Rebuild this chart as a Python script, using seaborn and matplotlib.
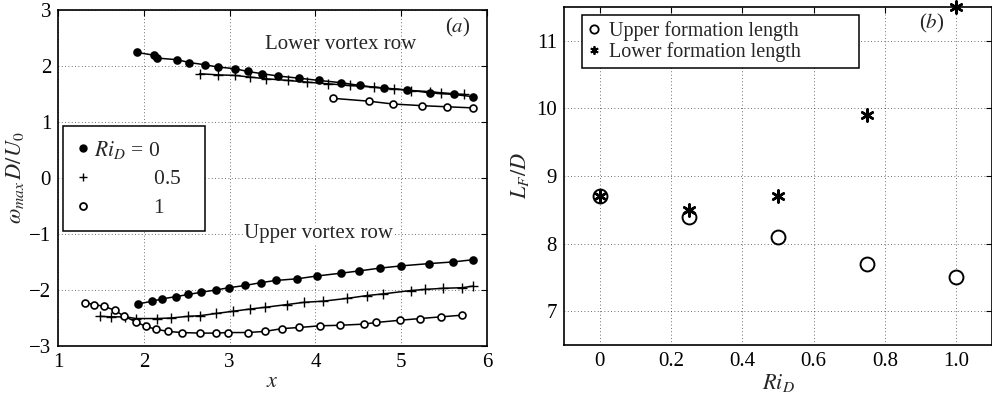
import numpy as np
import pandas as pd
import seaborn as sns
import matplotlib
matplotlib.use("Agg")
import matplotlib.pyplot as plt
from matplotlib.lines import Line2D

# ---------------- data: panel (a) ----------------
low0_x = [1.92, 2.12, 2.15, 2.39, 2.53, 2.71, 2.86, 3.06, 3.21, 3.38, 3.56, 3.81, 4.04, 4.30, 4.52, 4.80, 5.07, 5.33, 5.61, 5.84]
low0_y = [2.24, 2.19, 2.14, 2.11, 2.06, 2.02, 1.98, 1.95, 1.90, 1.86, 1.82, 1.78, 1.74, 1.70, 1.65, 1.60, 1.57, 1.52, 1.49, 1.45]
low05_x = [2.65, 2.86, 3.06, 3.24, 3.42, 3.68, 3.90, 4.15, 4.40, 4.68, 4.91, 5.11, 5.34, 5.46, 5.73]
low05_y = [1.86, 1.84, 1.83, 1.80, 1.77, 1.74, 1.71, 1.68, 1.65, 1.62, 1.59, 1.56, 1.54, 1.52, 1.49]
low1_x = [4.21, 4.62, 4.90, 5.24, 5.53, 5.84]
low1_y = [1.42, 1.37, 1.32, 1.29, 1.27, 1.25]

up0_x = [1.93, 2.10, 2.21, 2.37, 2.52, 2.67, 2.84, 2.99, 3.18, 3.36, 3.54, 3.79, 4.02, 4.30, 4.51, 4.75, 5.00, 5.32, 5.60, 5.84]
up0_y = [-2.25, -2.20, -2.16, -2.12, -2.08, -2.04, -2.00, -1.96, -1.92, -1.87, -1.83, -1.80, -1.75, -1.70, -1.66, -1.61, -1.57, -1.53, -1.50, -1.46]
up05_x = [1.49, 1.62, 1.78, 1.91, 2.15, 2.32, 2.52, 2.65, 2.84, 3.04, 3.24, 3.41, 3.67, 3.87, 4.09, 4.37, 4.60, 4.79, 5.11, 5.28, 5.49, 5.71, 5.84]
up05_y = [-2.47, -2.48, -2.48, -2.51, -2.51, -2.50, -2.47, -2.46, -2.42, -2.38, -2.34, -2.31, -2.26, -2.22, -2.20, -2.15, -2.10, -2.07, -2.01, -1.99, -1.97, -1.96, -1.93]
up1_x = [1.32, 1.42, 1.53, 1.66, 1.77, 1.91, 2.02, 2.14, 2.28, 2.44, 2.65, 2.84, 2.98, 3.21, 3.41, 3.61, 3.81, 4.05, 4.29, 4.56, 4.71, 4.99, 5.22, 5.46, 5.71]
up1_y = [-2.23, -2.26, -2.29, -2.36, -2.47, -2.57, -2.65, -2.70, -2.74, -2.76, -2.77, -2.77, -2.76, -2.76, -2.74, -2.69, -2.67, -2.64, -2.63, -2.61, -2.58, -2.54, -2.51, -2.48, -2.45]

legend_a = ["$Ri_D$ = 0", r"$\hspace{3.85}$0.5", r"$\hspace{3.85}$1"]

# ---------------- data: panel (b) ----------------
ri = [0.0, 0.25, 0.5, 0.75, 1.0]
upper_lf = [8.7, 8.4, 8.1, 7.7, 7.5]
lower_lf = [8.7, 8.5, 8.7, 9.9, 11.5]
legend_b = ["Upper formation length", "Lower formation length"]

# ---------------- style ----------------
sns.set_style("white")
plt.rcParams["font.family"] = ["Liberation Serif", "DejaVu Serif"]
plt.rcParams["mathtext.fontset"] = "stix"
FS = 15

fig = plt.figure(figsize=(9.92, 4.04), dpi=100)
axa = fig.add_axes([0.0585, 0.1436, 0.4325, 0.832])
axb = fig.add_axes([0.5685, 0.146, 0.4315, 0.837])

def style_axes(ax):
    for s in ax.spines.values():
        s.set_color("black")
        s.set_linewidth(1.2)
    ax.tick_params(direction="in", top=True, right=True, length=4, width=0.8,
                   labelsize=FS, colors="black", pad=5)
    ax.grid(True, linestyle=(0, (1, 3)), color="black", linewidth=0.6, alpha=0.75)
    ax.set_axisbelow(True)

# panel (a)
series = [
    (low0_x, low0_y, "o", "black"),
    (low05_x, low05_y, "+", "black"),
    (low1_x, low1_y, "o", "white"),
    (up0_x, up0_y, "o", "black"),
    (up05_x, up05_y, "+", "black"),
    (up1_x, up1_y, "o", "white"),
]
for xs, ys, m, fc in series:
    df = pd.DataFrame({"x": xs, "y": ys})
    kw = dict(marker=m, markersize=5 if m == "o" else 7, markeredgecolor="black",
              markeredgewidth=1.2 if m == "o" else 1.0)
    if m == "o":
        kw["markerfacecolor"] = fc
    sns.lineplot(data=df, x="x", y="y", ax=axa, color="black", linewidth=1.1,
                 sort=False, estimator=None, **kw)

axa.set_xlim(1, 6)
axa.set_ylim(-3, 3)
axa.set_xticks([1, 2, 3, 4, 5, 6])
axa.set_yticks([-3, -2, -1, 0, 1, 2, 3])
axa.set_yticklabels(["\u22123", "\u22122", "\u22121", "0", "1", "2", "3"])
style_axes(axa)
axa.set_xlabel("$x$", fontsize=FS + 1, labelpad=1)
axa.set_ylabel(r"$\omega_{max}\,D/U_0$", fontsize=FS + 1, labelpad=2)

axa.text(4.29, 2.39, "Lower vortex row", fontsize=FS, ha="center", va="center")
axa.text(4.03, -1.0, "Upper vortex row", fontsize=FS, ha="center", va="center",
         bbox=dict(facecolor="white", edgecolor="none", pad=0.5))
axa.text(0.962, 0.982, "($a$)", transform=axa.transAxes, fontsize=FS,
         ha="right", va="top")

handles_a = [
    Line2D([], [], linestyle="none", marker="o", markersize=5, markerfacecolor="black",
           markeredgecolor="black"),
    Line2D([], [], linestyle="none", marker="+", markersize=6, markeredgecolor="black"),
    Line2D([], [], linestyle="none", marker="o", markersize=5, markerfacecolor="white",
           markeredgecolor="black", markeredgewidth=1.3),
]
lga = axa.legend(handles_a, legend_a, loc="upper left",
                 bbox_to_anchor=(0.012, 0.34, 0.33, 0.315), mode="expand",
                 fontsize=FS + 0.5, frameon=True, fancybox=False, framealpha=1,
                 edgecolor="black", handlelength=0.6, handletextpad=0.25,
                 borderpad=0.6, labelspacing=0.4, borderaxespad=0)
lga.get_frame().set_linewidth(1.1)

# panel (b)
dfb = pd.DataFrame({"ri": ri, "upper": upper_lf, "lower": lower_lf})
sns.scatterplot(data=dfb, x="ri", y="upper", ax=axb, marker="o", s=100,
                facecolor="white", edgecolor="black", linewidth=1.4, zorder=3,
                clip_on=False)
sns.scatterplot(data=dfb, x="ri", y="lower", ax=axb, marker=(6, 2, 0), s=75,
                color="black", linewidth=1.8, zorder=4, clip_on=False)
axb.set_xlim(-0.1, 1.1)
axb.set_ylim(6.5, 11.5)
axb.set_xticks([0, 0.2, 0.4, 0.6, 0.8, 1.0])
axb.set_xticklabels(["0", "0.2", "0.4", "0.6", "0.8", "1.0"])
axb.set_yticks([7, 8, 9, 10, 11])
style_axes(axb)
axb.set_xlabel("$Ri_D$", fontsize=FS + 1, labelpad=1)
axb.set_ylabel("$L_F/D$", fontsize=FS + 1, labelpad=4)
axb.text(0.93, 11.25, "($b$)", fontsize=FS, ha="center", va="center")

handles_b = [
    Line2D([], [], linestyle="none", marker="o", markersize=6, markerfacecolor="white",
           markeredgecolor="black", markeredgewidth=1.3),
    Line2D([], [], linestyle="none", marker=(6, 2, 0), markersize=6,
           markeredgecolor="black", markeredgewidth=1.3),
]
lgb = axb.legend(handles_b, legend_b, loc="upper left",
                 bbox_to_anchor=(0.042, 0.8, 0.648, 0.176), mode="expand",
                 fontsize=FS - 0.5, frameon=True, fancybox=False, framealpha=1,
                 edgecolor="black", handlelength=0.6, handletextpad=0.45,
                 borderpad=0.3, labelspacing=0.05, borderaxespad=0)
lgb.get_frame().set_linewidth(1.1)

fig.savefig("out.png", dpi=100)
